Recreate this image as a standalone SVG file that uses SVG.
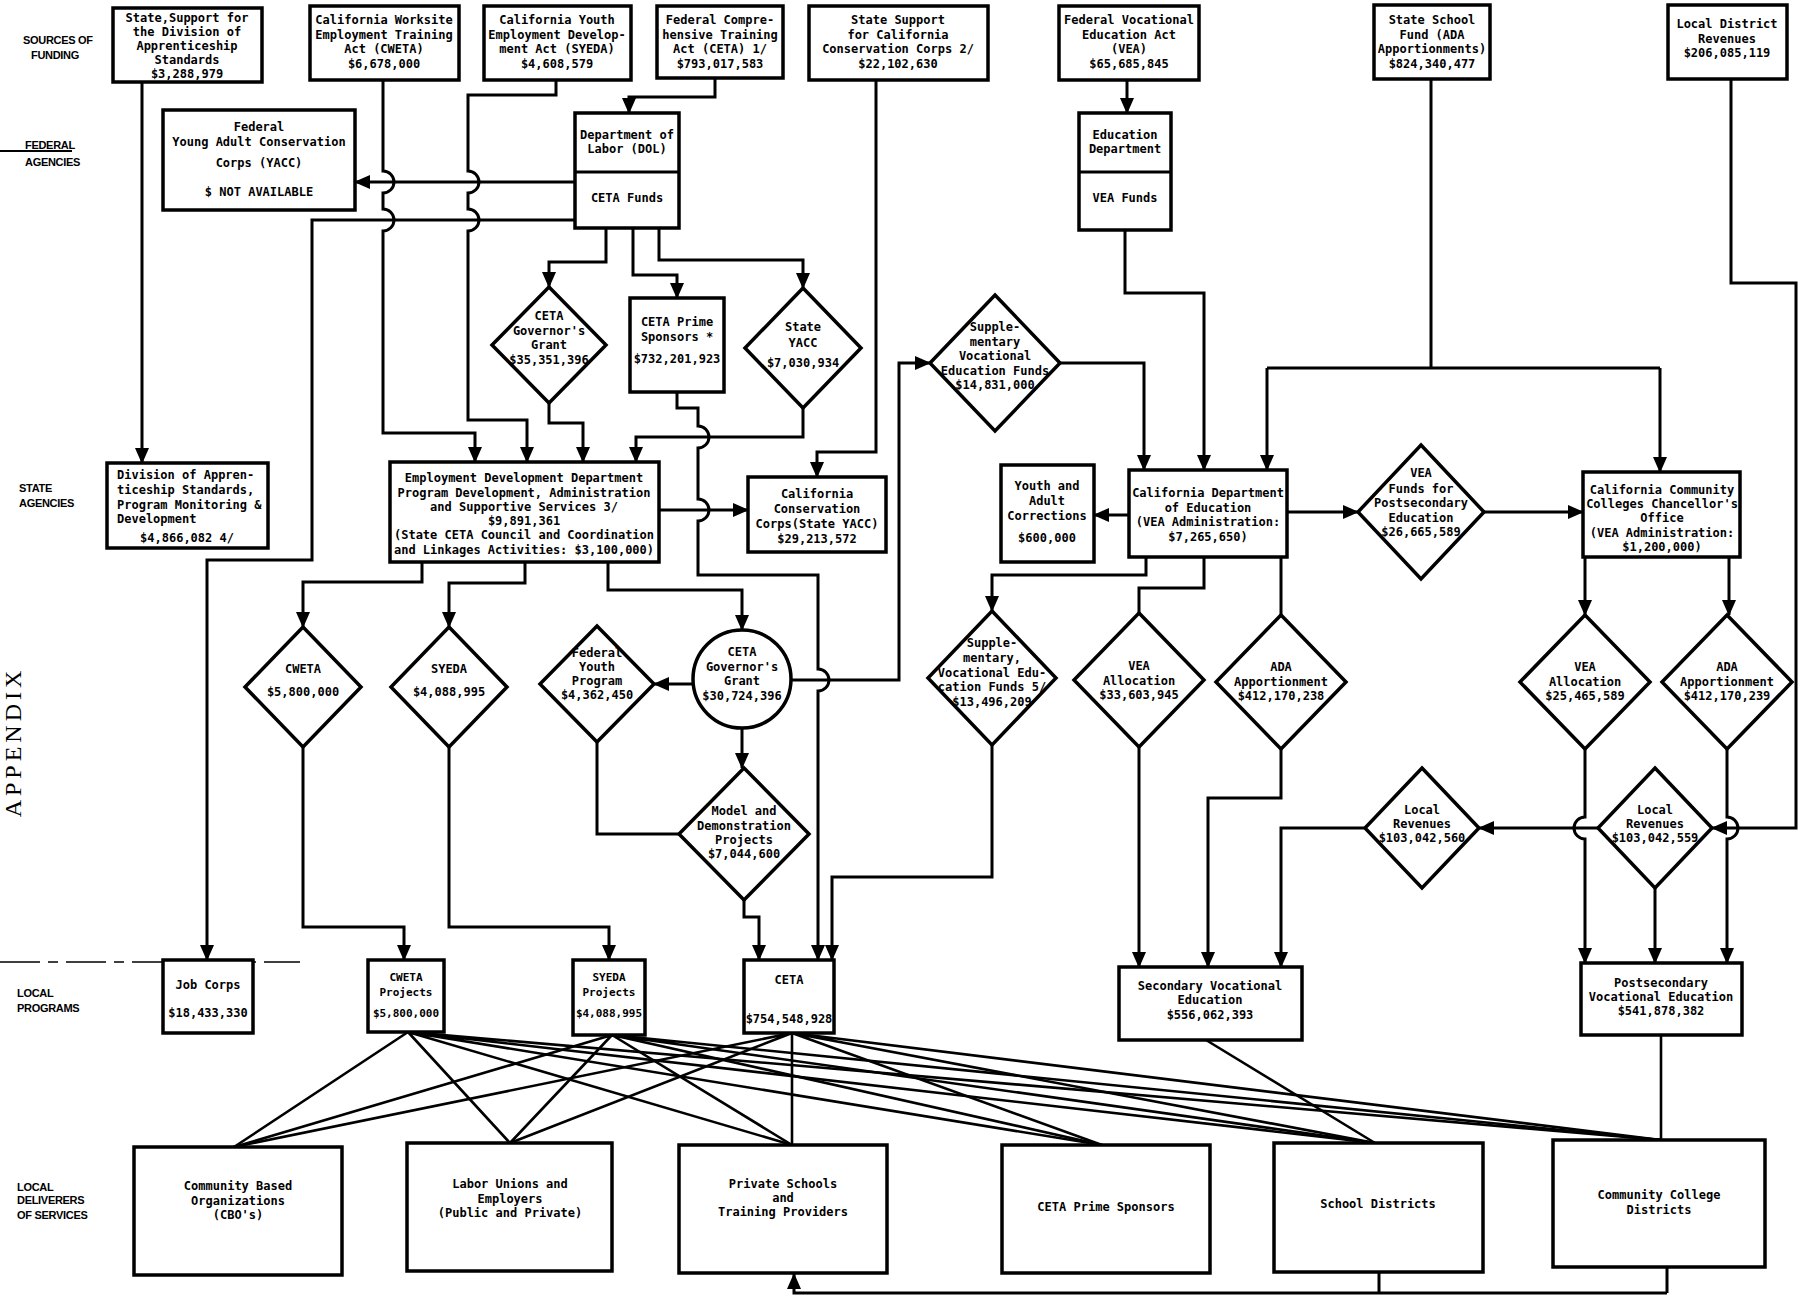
<svg xmlns="http://www.w3.org/2000/svg" width="1803" height="1300" viewBox="0 0 1803 1300">
<style>
.bx{fill:#fff;stroke:#000;stroke-width:3.5}
.ln{fill:none;stroke:#000;stroke-width:3}
.fan{fill:none;stroke:#000;stroke-width:2.6}
.ar{marker-end:url(#ah)}
text{font-family:"DejaVu Sans Mono","Liberation Mono",monospace;font-weight:bold;font-size:12px;fill:#000;text-anchor:middle}
.sm{font-size:11px}
.lab{font-family:"Liberation Sans",Arial,sans-serif;font-size:11px;text-anchor:start;letter-spacing:-0.3px}
.lft{text-anchor:start}
</style>
<defs>
<marker id="ah" markerWidth="16" markerHeight="14" refX="15" refY="7" orient="auto" markerUnits="userSpaceOnUse"><path d="M0,0 L16,7 L0,14 z" fill="#000"/></marker>
</defs>
<rect width="1803" height="1300" fill="#fff"/>

<g id="side-labels">
<text class="lab" x="23" y="44">SOURCES OF</text>
<text class="lab" x="31" y="59">FUNDING</text>
<line x1="0" y1="151" x2="72" y2="151" stroke="#000" stroke-width="2"/>
<text class="lab" x="25" y="149">FEDERAL</text>
<text class="lab" x="25" y="166">AGENCIES</text>
<text class="lab" x="19" y="492">STATE</text>
<text class="lab" x="19" y="507">AGENCIES</text>
<line x1="0" y1="962" x2="300" y2="962" stroke="#000" stroke-width="1.5" stroke-dasharray="40 8 10 8"/>
<text class="lab" x="17" y="997">LOCAL</text>
<text class="lab" x="17" y="1012">PROGRAMS</text>
<text class="lab" x="17" y="1191">LOCAL</text>
<text class="lab" x="17" y="1204">DELIVERERS</text>
<text class="lab" x="17" y="1219">OF SERVICES</text>
<text transform="translate(21,742) rotate(-90)" style="font-family:'Liberation Serif',serif;font-weight:normal;font-size:24px;letter-spacing:4px">APPENDIX</text>
</g>

<g id="connectors">
<path class="ln ar" d="M142,82 V463"/>
<path class="ln ar" d="M715,78 V97 H629 V113"/>
<path class="ln ar" d="M575,182 H355"/>
<path class="ln ar" d="M575,220 H312 V560 H207 V960"/>
<path class="ln ar" d="M383,80 V171 a11,11 0 0 1 0,22 V209 a11,11 0 0 1 0,22 V433 H475 V462"/>
<path class="ln ar" d="M556,80 V95 H468 V171 a11,11 0 0 1 0,22 V209 a11,11 0 0 1 0,22 V420 H527 V462"/>
<path class="ln ar" d="M606,228 V262 H549 V287"/>
<path class="ln ar" d="M633,228 V275 H677 V298"/>
<path class="ln ar" d="M659,228 V260 H803 V288"/>
<path class="ln ar" d="M549,403 V423 H583 V462"/>
<path class="ln ar" d="M677,392 V408 H698 V426 a11,11 0 0 1 0,22 V499 a11,11 0 0 1 0,22 V575 H818 V669 a11,11 0 0 1 0,22 V960"/>
<path class="ln ar" d="M803,408 V437 H636 V462"/>
<path class="ln ar" d="M876,80 V452 H817 V477"/>
<path class="ln ar" d="M659,510 H748"/>
<path class="ln ar" d="M422,562 V582 H303 V627"/>
<path class="ln ar" d="M525,562 V583 H449 V627"/>
<path class="ln ar" d="M608,562 V590 H742 V630"/>
<path class="ln ar" d="M693,684 H654"/>
<path class="ln ar" d="M742,728 V768"/>
<path class="ln" d="M597,742 V834 H679"/>
<path class="ln ar" d="M744,900 V917 H759 V960"/>
<path class="ln ar" d="M791,680 H899 V363 H930"/>
<path class="ln ar" d="M303,747 V927 H404 V960"/>
<path class="ln ar" d="M449,747 V927 H609 V960"/>
<path class="ln ar" d="M992,745 V877 H832 V960"/>
<path class="ln ar" d="M1127,80 V113"/>
<path class="ln ar" d="M1125,230 V293 H1204 V470"/>
<path class="ln" d="M1431,79 V368 M1267,368 H1660"/>
<path class="ln ar" d="M1267,368 V470"/>
<path class="ln ar" d="M1660,368 V472"/>
<path class="ln ar" d="M1731,79 V283 H1796 V828 H1712"/>
<path class="ln ar" d="M1060,363 H1144 V470"/>
<path class="ln ar" d="M1129,515 H1094"/>
<path class="ln ar" d="M1287,512 H1358"/>
<path class="ln ar" d="M1484,512 H1583"/>
<path class="ln ar" d="M1146,557 V575 H992 V611"/>
<path class="ln" d="M1204,557 V588 H1139 V613"/>
<path class="ln" d="M1281,557 V615"/>
<path class="ln ar" d="M1585,557 V615"/>
<path class="ln ar" d="M1729,557 V615"/>
<path class="ln ar" d="M1139,747 V967"/>
<path class="ln ar" d="M1281,749 V798 H1208 V967"/>
<path class="ln ar" d="M1365,828 H1281 V967"/>
<path class="ln ar" d="M1598,828 H1479"/>
<path class="ln ar" d="M1585,749 V817 a11,11 0 0 0 0,22 V963"/>
<path class="ln ar" d="M1655,888 V963"/>
<path class="ln ar" d="M1727,749 V817 a11,11 0 0 1 0,22 V963"/>
<path class="fan" d="M408,1032 L234,1147 M408,1032 L510,1143 M408,1032 L792,1145 M408,1032 L1102,1145 M408,1032 L1375,1143 M408,1032 L1661,1140"/>
<path class="fan" d="M612,1035 L234,1147 M612,1035 L510,1143 M612,1035 L792,1145 M612,1035 L1102,1145 M612,1035 L1375,1143 M612,1035 L1661,1140"/>
<path class="fan" d="M792,1033 L234,1147 M792,1033 L510,1143 M792,1033 L792,1145 M792,1033 L1102,1145 M792,1033 L1375,1143 M792,1033 L1661,1140"/>
<path class="fan" d="M1206,1040 L1375,1143 M1661,1035 V1140"/>
<path class="ln" d="M1379,1272 V1293 M1667,1267 V1293"/>
<path class="ln ar" d="M1667,1293 H794 V1274"/>
</g>

<g id="src-apprenticeship"><rect class="bx" x="113" y="8" width="149" height="74"/>
<text x="187" y="22">State,Support for<tspan x="187" dy="14">the Division of</tspan><tspan x="187" dy="14">Apprenticeship</tspan><tspan x="187" dy="14">Standards</tspan><tspan x="187" dy="14">$3,288,979</tspan></text></g>
<g id="src-cweta"><rect class="bx" x="310" y="6" width="149" height="74"/>
<text x="384" y="24">California Worksite<tspan x="384" dy="14.5">Employment Training</tspan><tspan x="384" dy="14.5">Act (CWETA)</tspan><tspan x="384" dy="14.5">$6,678,000</tspan></text></g>
<g id="src-syeda"><rect class="bx" x="484" y="6" width="147" height="74"/>
<text x="557" y="24">California Youth<tspan x="557" dy="14.5">Employment Develop-</tspan><tspan x="557" dy="14.5">ment Act (SYEDA)</tspan><tspan x="557" dy="14.5">$4,608,579</tspan></text></g>
<g id="src-ceta"><rect class="bx" x="657" y="6" width="126" height="72"/>
<text x="720" y="24">Federal Compre-<tspan x="720" dy="14.5">hensive Training</tspan><tspan x="720" dy="14.5">Act (CETA) 1/</tspan><tspan x="720" dy="14.5">$793,017,583</tspan></text></g>
<g id="src-ccc"><rect class="bx" x="809" y="6" width="179" height="74"/>
<text x="898" y="24">State Support<tspan x="898" dy="14.5">for California</tspan><tspan x="898" dy="14.5">Conservation Corps 2/</tspan><tspan x="898" dy="14.5">$22,102,630</tspan></text></g>
<g id="src-vea"><rect class="bx" x="1059" y="6" width="140" height="74"/>
<text x="1129" y="24">Federal Vocational<tspan x="1129" dy="14.5">Education Act</tspan><tspan x="1129" dy="14.5">(VEA)</tspan><tspan x="1129" dy="14.5">$65,685,845</tspan></text></g>
<g id="src-school-fund"><rect class="bx" x="1374" y="5" width="116" height="74"/>
<text x="1432" y="24">State School<tspan x="1432" dy="14.5">Fund (ADA</tspan><tspan x="1432" dy="14.5">Apportionments)</tspan><tspan x="1432" dy="14.5">$824,340,477</tspan></text></g>
<g id="src-local-district"><rect class="bx" x="1668" y="5" width="119" height="74"/>
<text x="1727" y="28">Local District<tspan x="1727" dy="14.5">Revenues</tspan><tspan x="1727" dy="14.5">$206,085,119</tspan></text></g>

<g id="fed-yacc"><rect class="bx" x="163" y="110" width="192" height="100"/>
<text x="259" y="131">Federal<tspan x="259" dy="15">Young Adult Conservation</tspan><tspan x="259" dy="21">Corps (YACC)</tspan><tspan x="259" dy="29">$ NOT AVAILABLE</tspan></text></g>
<g id="fed-dol"><rect class="bx" x="575" y="113" width="104" height="115"/><line x1="575" y1="172" x2="679" y2="172" stroke="#000" stroke-width="3"/>
<text x="627" y="139">Department of<tspan x="627" dy="14">Labor (DOL)</tspan><tspan x="627" dy="49">CETA Funds</tspan></text></g>
<g id="fed-edu"><rect class="bx" x="1079" y="113" width="92" height="117"/><line x1="1079" y1="172" x2="1171" y2="172" stroke="#000" stroke-width="3"/>
<text x="1125" y="139">Education<tspan x="1125" dy="14">Department</tspan><tspan x="1125" dy="49">VEA Funds</tspan></text></g>

<g id="ceta-gov-grant-1"><polygon class="bx" points="549,287 606,345 549,403 492,345"/>
<text x="549" y="320">CETA<tspan x="549" dy="14.5">Governor's</tspan><tspan x="549" dy="14.5">Grant</tspan><tspan x="549" dy="14.5">$35,351,396</tspan></text></g>
<g id="ceta-prime-sponsors-1"><rect class="bx" x="630" y="298" width="94" height="94"/>
<text x="677" y="326">CETA Prime<tspan x="677" dy="15">Sponsors *</tspan><tspan x="677" dy="22">$732,201,923</tspan></text></g>
<g id="state-yacc"><polygon class="bx" points="803,288 861,348 803,408 745,348"/>
<text x="803" y="331">State<tspan x="803" dy="16">YACC</tspan><tspan x="803" dy="20">$7,030,934</tspan></text></g>
<g id="supp-voc-1"><polygon class="bx" points="995,295 1060,363 995,431 930,363"/>
<text x="995" y="331">Supple-<tspan x="995" dy="14.5">mentary</tspan><tspan x="995" dy="14.5">Vocational</tspan><tspan x="995" dy="14.5">Education Funds</tspan><tspan x="995" dy="14.5">$14,831,000</tspan></text></g>

<g id="div-apprenticeship"><rect class="bx" x="107" y="463" width="161" height="85"/>
<text class="lft" x="117" y="479">Division of Appren-<tspan x="117" dy="15">ticeship Standards,</tspan><tspan x="117" dy="15">Program Monitoring &amp;</tspan><tspan x="117" dy="14">Development</tspan><tspan x="187" dy="19" style="text-anchor:middle">$4,866,082 4/</tspan></text></g>
<g id="edd"><rect class="bx" x="390" y="462" width="269" height="100"/>
<text x="524" y="482">Employment Development Department<tspan x="524" dy="14.5">Program Development, Administration</tspan><tspan x="524" dy="14.5">and Supportive Services 3/</tspan><tspan x="524" dy="14">$9,891,361</tspan><tspan x="524" dy="14">(State CETA Council and Coordination</tspan><tspan x="524" dy="14.5">and Linkages Activities: $3,100,000)</tspan></text></g>
<g id="ccc"><rect class="bx" x="748" y="477" width="138" height="75"/>
<text x="817" y="498">California<tspan x="817" dy="15">Conservation</tspan><tspan x="817" dy="14.5">Corps(State YACC)</tspan><tspan x="817" dy="15.5">$29,213,572</tspan></text></g>
<g id="youth-corrections"><rect class="bx" x="1001" y="465" width="93" height="97"/>
<text x="1047" y="490">Youth and<tspan x="1047" dy="15">Adult</tspan><tspan x="1047" dy="14.5">Corrections</tspan><tspan x="1047" dy="22">$600,000</tspan></text></g>
<g id="ca-dept-ed"><rect class="bx" x="1129" y="470" width="158" height="87"/>
<text x="1208" y="497">California Department<tspan x="1208" dy="14.5">of Education</tspan><tspan x="1208" dy="14.5">(VEA Administration:</tspan><tspan x="1208" dy="14.5">$7,265,650)</tspan></text></g>
<g id="vea-postsec"><polygon class="bx" points="1421,445 1484,512 1421,579 1358,512"/>
<text x="1421" y="477">VEA<tspan x="1421" dy="15.5">Funds for</tspan><tspan x="1421" dy="14.5">Postsecondary</tspan><tspan x="1421" dy="14.5">Education</tspan><tspan x="1421" dy="14.5">$26,665,589</tspan></text></g>
<g id="ccc-chancellor"><rect class="bx" x="1583" y="472" width="157" height="85"/>
<text x="1662" y="494">California Community<tspan x="1662" dy="14.2">Colleges Chancellor's</tspan><tspan x="1662" dy="14.2">Office</tspan><tspan x="1662" dy="14.2">(VEA Administration:</tspan><tspan x="1662" dy="14.2">$1,200,000)</tspan></text></g>

<g id="cweta-diamond"><polygon class="bx" points="303,627 361,687 303,747 245,687"/>
<text x="303" y="673">CWETA<tspan x="303" dy="23">$5,800,000</tspan></text></g>
<g id="syeda-diamond"><polygon class="bx" points="449,627 507,687 449,747 391,687"/>
<text x="449" y="673">SYEDA<tspan x="449" dy="23">$4,088,995</tspan></text></g>
<g id="fed-youth"><polygon class="bx" points="597,626 654,684 597,742 540,684"/>
<text x="597" y="657">Federal<tspan x="597" dy="14">Youth</tspan><tspan x="597" dy="14">Program</tspan><tspan x="597" dy="14">$4,362,450</tspan></text></g>
<g id="ceta-gov-grant-2"><circle class="bx" cx="742" cy="679" r="49"/>
<text x="742" y="656">CETA<tspan x="742" dy="14.5">Governor's</tspan><tspan x="742" dy="14.5">Grant</tspan><tspan x="742" dy="14.5">$30,724,396</tspan></text></g>
<g id="model-demo"><polygon class="bx" points="744,768 809,834 744,900 679,834"/>
<text x="744" y="815">Model and<tspan x="744" dy="14.5">Demonstration</tspan><tspan x="744" dy="14.5">Projects</tspan><tspan x="744" dy="13.5">$7,044,600</tspan></text></g>
<g id="supp-voc-2"><polygon class="bx" points="992,611 1056,678 992,745 928,678"/>
<text x="992" y="647">Supple-<tspan x="992" dy="14.8">mentary,</tspan><tspan x="992" dy="14.8">Vocational Edu-</tspan><tspan x="992" dy="14.8">cation Funds 5/</tspan><tspan x="992" dy="14.2">$13,496,209</tspan></text></g>
<g id="vea-alloc-1"><polygon class="bx" points="1139,613 1204,680 1139,747 1074,680"/>
<text x="1139" y="670">VEA<tspan x="1139" dy="15">Allocation</tspan><tspan x="1139" dy="14">$33,603,945</tspan></text></g>
<g id="ada-1"><polygon class="bx" points="1281,615 1346,682 1281,749 1216,682"/>
<text x="1281" y="671">ADA<tspan x="1281" dy="15">Apportionment</tspan><tspan x="1281" dy="13.5">$412,170,238</tspan></text></g>
<g id="local-rev-1"><polygon class="bx" points="1422,768 1479,828 1422,888 1365,828"/>
<text x="1422" y="814">Local<tspan x="1422" dy="13.5">Revenues</tspan><tspan x="1422" dy="14">$103,042,560</tspan></text></g>
<g id="vea-alloc-2"><polygon class="bx" points="1585,615 1650,682 1585,749 1520,682"/>
<text x="1585" y="671">VEA<tspan x="1585" dy="15">Allocation</tspan><tspan x="1585" dy="13.5">$25,465,589</tspan></text></g>
<g id="ada-2"><polygon class="bx" points="1727,615 1792,682 1727,749 1662,682"/>
<text x="1727" y="671">ADA<tspan x="1727" dy="15">Apportionment</tspan><tspan x="1727" dy="13.5">$412,170,239</tspan></text></g>
<g id="local-rev-2"><polygon class="bx" points="1655,768 1712,828 1655,888 1598,828"/>
<text x="1655" y="814">Local<tspan x="1655" dy="13.5">Revenues</tspan><tspan x="1655" dy="14">$103,042,559</tspan></text></g>

<g id="job-corps"><rect class="bx" x="163" y="960" width="90" height="73"/>
<text x="208" y="989">Job Corps<tspan x="208" dy="28">$18,433,330</tspan></text></g>
<g id="cweta-projects"><rect class="bx" x="368" y="960" width="76" height="72"/>
<text class="sm" x="406" y="981">CWETA<tspan x="406" dy="15">Projects</tspan><tspan x="406" dy="21">$5,800,000</tspan></text></g>
<g id="syeda-projects"><rect class="bx" x="573" y="960" width="72" height="75"/>
<text class="sm" x="609" y="981">SYEDA<tspan x="609" dy="15">Projects</tspan><tspan x="609" dy="21">$4,088,995</tspan></text></g>
<g id="ceta-local"><rect class="bx" x="744" y="960" width="90" height="73"/>
<text x="789" y="984">CETA<tspan x="789" dy="39">$754,548,928</tspan></text></g>
<g id="secondary-voc"><rect class="bx" x="1119" y="967" width="183" height="73"/>
<text x="1210" y="990">Secondary Vocational<tspan x="1210" dy="14">Education</tspan><tspan x="1210" dy="15">$556,062,393</tspan></text></g>
<g id="postsec-voc"><rect class="bx" x="1581" y="963" width="161" height="72"/>
<text x="1661" y="987">Postsecondary<tspan x="1661" dy="14">Vocational Education</tspan><tspan x="1661" dy="14">$541,878,382</tspan></text></g>

<g id="cbo"><rect class="bx" x="134" y="1147" width="208" height="128"/>
<text x="238" y="1190">Community Based<tspan x="238" dy="14.5">Organizations</tspan><tspan x="238" dy="14.5">(CBO's)</tspan></text></g>
<g id="labor"><rect class="bx" x="407" y="1143" width="205" height="128"/>
<text x="510" y="1188">Labor Unions and<tspan x="510" dy="14.5">Employers</tspan><tspan x="510" dy="14.5">(Public and Private)</tspan></text></g>
<g id="private-schools"><rect class="bx" x="679" y="1145" width="208" height="128"/>
<text x="783" y="1188">Private Schools<tspan x="783" dy="14">and</tspan><tspan x="783" dy="14">Training Providers</tspan></text></g>
<g id="ceta-prime-sponsors-2"><rect class="bx" x="1002" y="1145" width="208" height="128"/>
<text x="1106" y="1211">CETA Prime Sponsors</text></g>
<g id="school-districts"><rect class="bx" x="1274" y="1143" width="209" height="129"/>
<text x="1378" y="1208">School Districts</text></g>
<g id="cc-districts"><rect class="bx" x="1553" y="1140" width="212" height="127"/>
<text x="1659" y="1199">Community College<tspan x="1659" dy="14.5">Districts</tspan></text></g>
</svg>
